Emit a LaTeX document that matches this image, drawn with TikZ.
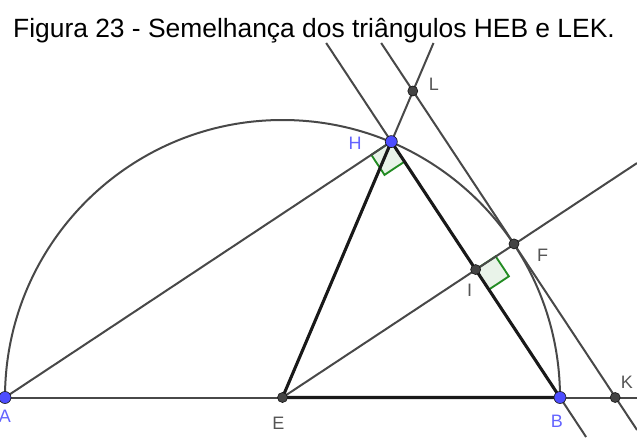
\documentclass[tikz,border=0pt]{standalone}
\usepackage{fontspec}
\setmainfont{Liberation Sans}
\usepackage{tikz}
\definecolor{lineink}{RGB}{72,72,72}
\definecolor{edgeink}{RGB}{25,25,25}
\definecolor{freeblue}{RGB}{77,77,255}
\definecolor{lblblue}{RGB}{100,100,255}
\definecolor{ptgray}{RGB}{68,68,68}
\definecolor{lblgray}{RGB}{85,85,85}
\definecolor{rightgrn}{RGB}{34,139,34}

\begin{document}
\begin{tikzpicture}[x=0.75pt, y=0.75pt, font=\fontsize{13.5}{16}\selectfont,
  guide/.style={draw=lineink, line width=1.5pt},
  side/.style={draw=edgeink, line width=2.3pt, line join=round},
  rightmark/.style={draw=rightgrn, line width=1.4pt, fill=rightgrn!10},
  bluept/.style={fill=freeblue, draw=edgeink, line width=0.5pt},
  greypt/.style={fill=ptgray, draw=edgeink, line width=0.5pt},
  bluelbl/.style={text=lblblue, inner sep=0pt},
  greylbl/.style={text=lblgray, inner sep=0pt}]
  \useasboundingbox (0,0) rectangle (637,437);
  % points of the construction
  \coordinate (A) at (5,39.5);
  \coordinate (E) at (282.5,39.5);
  \coordinate (B) at (560,39.5);
  \coordinate (H) at (391.3,295.4);
  \coordinate (I) at (475.65,167.45);
  \coordinate (F) at (514.0,193.1);
  \coordinate (K) at (615.2,39.5);
  \coordinate (L) at (412.8,346.0);
  % loose ends of the lines at the border
  \coordinate (BHtop) at (326.2,394);
  \coordinate (BHbot) at (586.1,0);
  \coordinate (EHtop) at (433.5,394);
  \coordinate (LKtop) at (381.2,394);
  \coordinate (LKbot) at (637,7.05);
  \coordinate (EFend) at (637,273.9);
  \coordinate (ABend) at (637,39.5);

  % right angles at H and I
  \filldraw[rightmark] (H) -- (371.3,282.15) -- (384.53,262.12) -- (404.53,275.37) -- cycle;
  \filldraw[rightmark] (I) -- (495.67,180.69) -- (508.9,160.66) -- (488.88,147.42) -- cycle;

  \draw[guide] (A) arc[start angle=180, end angle=0, radius=277.5];
  \draw[guide] (A) -- (ABend);
  \draw[guide] (A) -- (H);
  \draw[guide] (BHtop) -- (BHbot);
  \draw[guide] (E) -- (EHtop);
  \draw[guide] (LKtop) -- (LKbot);
  \draw[guide] (E) -- (EFend);
  \draw[side] (H) -- (E) -- (B) -- cycle;

  \foreach \p in {E,I,F,K,L} \draw[greypt] (\p) circle (5);
  \foreach \p in {A,B,H} \draw[bluept] (\p) circle (6);

  \node[bluelbl] (labA) at (5,21) {A};
  \node[bluelbl] (labB) at (557,16) {B};
  \node[bluelbl] (labH) at (355,294) {H};
  \node[greylbl] (labE) at (278.5,13.5) {E};
  \node[greylbl] (labI) at (469.5,146.5) {I};
  \node[greylbl] (labF) at (542.5,182) {F};
  \node[greylbl] (labK) at (627,55) {K};
  \node[greylbl] (labL) at (434,353) {L};

  \node[font=\fontsize{19.8}{24}\selectfont, anchor=base] (title) at (314,400)
    {Figura 23 - Semelhança dos triângulos HEB e LEK.};
\end{tikzpicture}
\end{document}
